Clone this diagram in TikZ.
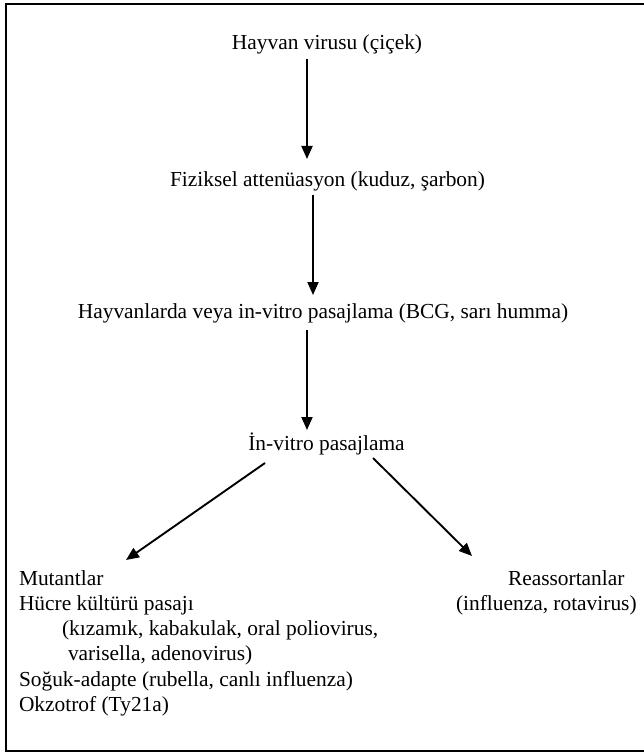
\documentclass[tikz,border=0pt]{standalone}
\usepackage{fontspec}
\setmainfont{Liberation Serif}
\usetikzlibrary{arrows.meta,calc}
\begin{document}
\begin{tikzpicture}[x=1pt,y=-1pt,
  lbl/.style={inner sep=0pt, outer sep=0pt, font=\fontsize{21.4}{25.5}\selectfont},
  arr/.style={line width=1.9pt, -{Triangle[length=13pt,width=11pt]}},
  frame/.style={line width=1.6pt, draw=black}]
\useasboundingbox (0,0) rectangle (643,754);
\draw[frame] (6,4) rectangle (660,751);
% main chain
\node[lbl, anchor=base] (hv) at (327,50) {Hayvan virusu (çiçek)};
\node[lbl, anchor=base] (fz) at (327.5,186) {Fiziksel attenüasyon (kuduz, şarbon)};
\node[lbl, anchor=base] (hl) at (323,318) {Hayvanlarda veya in-vitro pasajlama (BCG, sarı humma)};
\node[lbl, anchor=base] (iv) at (326.5,450) {İn-vitro pasajlama};
% left list
\node[lbl, anchor=base west] (mut) at (19,585) {Mutantlar};
\node[lbl, anchor=base west] (hk) at (19,610) {Hücre kültürü pasajı};
\node[lbl, anchor=base west] (kz) at (62,635) {(kızamık, kabakulak, oral poliovirus,};
\node[lbl, anchor=base west] (va) at (68,660) {varisella, adenovirus)};
\node[lbl, anchor=base west] (sa) at (19,686) {Soğuk-adapte (rubella, canlı influenza)};
\node[lbl, anchor=base west] (ok) at (19,711) {Okzotrof (Ty21a)};
% right
\node[lbl, anchor=base west] (re) at (508,585) {Reassortanlar};
\node[lbl, anchor=base west] (inf) at (456,610) {(influenza, rotavirus)};
% arrows
\draw[arr] ($(hv.base)+(-20,9)$) -- ($(hv.base)+(-20,109)$);
\draw[arr] ($(fz.base)+(-14.5,9)$) -- ($(fz.base)+(-14.5,109)$);
\draw[arr] ($(hl.base)+(-16,12)$) -- ($(hl.base)+(-16,112)$);
\draw[arr] ($(iv.base)+(-61.5,13)$) -- ($(mut.base west)+(107,-25)$);
\draw[arr] ($(iv.base)+(46.5,8)$) -- ($(re.base west)+(-36,-29)$);
\end{tikzpicture}
\end{document}
